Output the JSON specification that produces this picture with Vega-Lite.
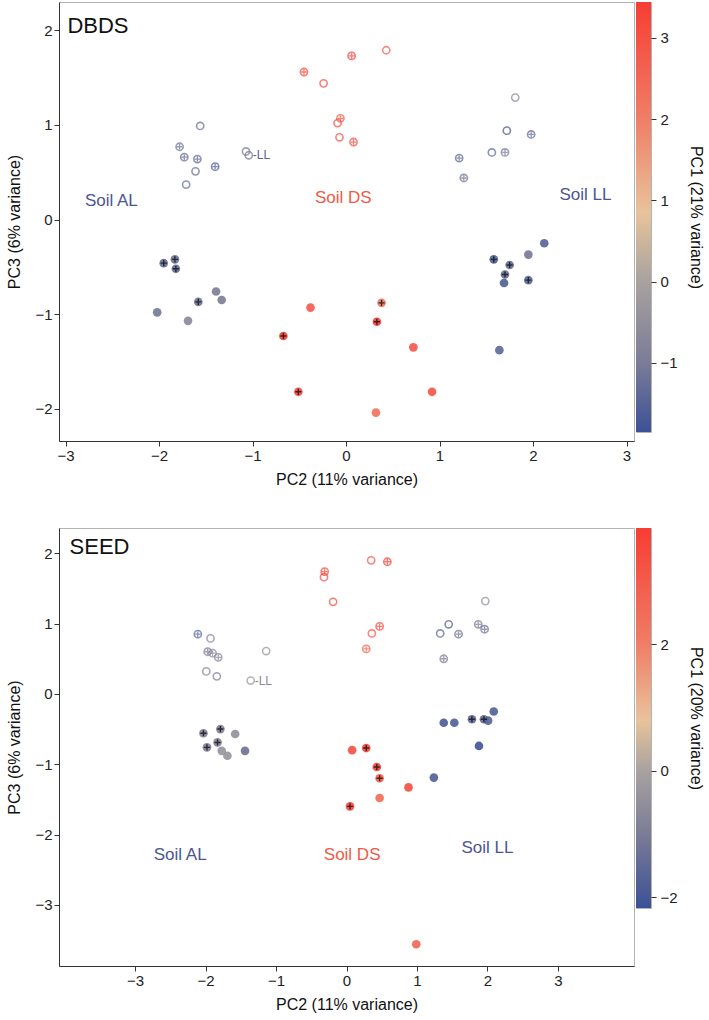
{
  "$schema": "https://vega.github.io/schema/vega-lite/v6.json",
  "padding": {"top": 1, "left": 6, "right": 0, "bottom": 0},
  "spacing": 39,
  "config": {
    "font": "Liberation Sans",
    "view": {"stroke": "#b3b3b3", "strokeWidth": 1},
    "axis": {"grid": false, "domainColor": "#333", "tickColor": "#333", "labelColor": "#222", "titleColor": "#111", "labelFontSize": 15, "titleFontSize": 16, "titleFontWeight": "normal", "labelFont": "Liberation Sans", "titleFont": "Liberation Sans", "tickSize": 5},
    "axisX": {"titlePadding": 8}
  },
  "datasets": {
    "dbds": [
      {"pc2": -0.24, "pc3": 1.44, "pc1": 3.1, "kind": "open", "plus": false},
      {"pc2": -0.09, "pc3": 1.02, "pc1": 3.1, "kind": "open", "plus": false},
      {"pc2": -0.07, "pc3": 0.87, "pc1": 3.0, "kind": "open", "plus": false},
      {"pc2": 0.43, "pc3": 1.79, "pc1": 2.8, "kind": "open", "plus": false},
      {"pc2": -0.45, "pc3": 1.56, "pc1": 3.3, "kind": "open", "plus": true},
      {"pc2": 0.06, "pc3": 1.73, "pc1": 3.4, "kind": "open", "plus": true},
      {"pc2": -0.06, "pc3": 1.07, "pc1": 2.9, "kind": "open", "plus": true},
      {"pc2": 0.08, "pc3": 0.82, "pc1": 3.1, "kind": "open", "plus": true},
      {"pc2": -1.56, "pc3": 0.99, "pc1": -1.3, "kind": "open", "plus": false},
      {"pc2": -1.78, "pc3": 0.77, "pc1": -1.2, "kind": "open", "plus": true},
      {"pc2": -1.73, "pc3": 0.66, "pc1": -1.4, "kind": "open", "plus": true},
      {"pc2": -1.59, "pc3": 0.64, "pc1": -1.4, "kind": "open", "plus": true},
      {"pc2": -1.40, "pc3": 0.56, "pc1": -1.7, "kind": "open", "plus": true},
      {"pc2": -1.61, "pc3": 0.51, "pc1": -1.3, "kind": "open", "plus": false},
      {"pc2": -1.71, "pc3": 0.37, "pc1": -1.3, "kind": "open", "plus": false},
      {"pc2": -1.07, "pc3": 0.72, "pc1": -1.1, "kind": "open", "plus": false},
      {"pc2": -1.04, "pc3": 0.68, "pc1": -1.1, "kind": "open", "plus": false},
      {"pc2": 1.81, "pc3": 1.29, "pc1": -0.7, "kind": "open", "plus": false},
      {"pc2": 1.72, "pc3": 0.94, "pc1": -1.8, "kind": "open", "plus": false},
      {"pc2": 1.98, "pc3": 0.90, "pc1": -1.4, "kind": "open", "plus": true},
      {"pc2": 1.56, "pc3": 0.71, "pc1": -1.4, "kind": "open", "plus": false},
      {"pc2": 1.70, "pc3": 0.71, "pc1": -1.1, "kind": "open", "plus": true},
      {"pc2": 1.21, "pc3": 0.65, "pc1": -1.4, "kind": "open", "plus": true},
      {"pc2": 1.26, "pc3": 0.44, "pc1": -1.2, "kind": "open", "plus": true},
      {"pc2": -1.95, "pc3": -0.46, "pc1": -1.3, "kind": "filled", "plus": true},
      {"pc2": -1.83, "pc3": -0.42, "pc1": -1.2, "kind": "filled", "plus": true},
      {"pc2": -1.82, "pc3": -0.52, "pc1": -1.3, "kind": "filled", "plus": true},
      {"pc2": -1.39, "pc3": -0.76, "pc1": -1.0, "kind": "filled", "plus": false},
      {"pc2": -1.58, "pc3": -0.87, "pc1": -1.2, "kind": "filled", "plus": true},
      {"pc2": -1.33, "pc3": -0.85, "pc1": -1.0, "kind": "filled", "plus": false},
      {"pc2": -2.02, "pc3": -0.98, "pc1": -1.1, "kind": "filled", "plus": false},
      {"pc2": -1.69, "pc3": -1.07, "pc1": -0.7, "kind": "filled", "plus": false},
      {"pc2": -0.38, "pc3": -0.93, "pc1": 2.8, "kind": "filled", "plus": false},
      {"pc2": -0.67, "pc3": -1.23, "pc1": 3.4, "kind": "filled", "plus": true},
      {"pc2": -0.51, "pc3": -1.82, "pc1": 3.2, "kind": "filled", "plus": true},
      {"pc2": 0.38, "pc3": -0.88, "pc1": 2.1, "kind": "filled", "plus": true},
      {"pc2": 0.33, "pc3": -1.08, "pc1": 3.4, "kind": "filled", "plus": true},
      {"pc2": 0.72, "pc3": -1.35, "pc1": 2.9, "kind": "filled", "plus": false},
      {"pc2": 0.92, "pc3": -1.82, "pc1": 2.9, "kind": "filled", "plus": false},
      {"pc2": 0.32, "pc3": -2.04, "pc1": 2.3, "kind": "filled", "plus": false},
      {"pc2": 2.12, "pc3": -0.25, "pc1": -1.5, "kind": "filled", "plus": false},
      {"pc2": 1.95, "pc3": -0.37, "pc1": -1.1, "kind": "filled", "plus": false},
      {"pc2": 1.58, "pc3": -0.42, "pc1": -1.6, "kind": "filled", "plus": true},
      {"pc2": 1.75, "pc3": -0.48, "pc1": -1.3, "kind": "filled", "plus": true},
      {"pc2": 1.70, "pc3": -0.58, "pc1": -1.3, "kind": "filled", "plus": true},
      {"pc2": 1.69, "pc3": -0.67, "pc1": -1.6, "kind": "filled", "plus": false},
      {"pc2": 1.95, "pc3": -0.64, "pc1": -1.4, "kind": "filled", "plus": true},
      {"pc2": 1.64, "pc3": -1.38, "pc1": -1.4, "kind": "filled", "plus": false}
    ],
    "seed": [
      {"pc2": -0.31, "pc3": 1.74, "pc1": 3.5, "kind": "open", "plus": true},
      {"pc2": -0.32, "pc3": 1.66, "pc1": 3.4, "kind": "open", "plus": false},
      {"pc2": -0.19, "pc3": 1.31, "pc1": 3.5, "kind": "open", "plus": false},
      {"pc2": 0.35, "pc3": 1.90, "pc1": 3.2, "kind": "open", "plus": false},
      {"pc2": 0.58, "pc3": 1.88, "pc1": 3.8, "kind": "open", "plus": true},
      {"pc2": 0.47, "pc3": 0.96, "pc1": 3.6, "kind": "open", "plus": true},
      {"pc2": 0.36, "pc3": 0.86, "pc1": 3.2, "kind": "open", "plus": false},
      {"pc2": 0.28, "pc3": 0.64, "pc1": 2.8, "kind": "open", "plus": true},
      {"pc2": -2.11, "pc3": 0.85, "pc1": -1.6, "kind": "open", "plus": true},
      {"pc2": -1.93, "pc3": 0.79, "pc1": -0.9, "kind": "open", "plus": false},
      {"pc2": -1.97, "pc3": 0.60, "pc1": -1.0, "kind": "open", "plus": true},
      {"pc2": -1.90, "pc3": 0.58, "pc1": -0.7, "kind": "open", "plus": true},
      {"pc2": -1.82, "pc3": 0.52, "pc1": -0.8, "kind": "open", "plus": true},
      {"pc2": -1.14, "pc3": 0.61, "pc1": -0.4, "kind": "open", "plus": false},
      {"pc2": -1.99, "pc3": 0.32, "pc1": -0.8, "kind": "open", "plus": false},
      {"pc2": -1.84, "pc3": 0.25, "pc1": -1.0, "kind": "open", "plus": false},
      {"pc2": -1.36, "pc3": 0.19, "pc1": -0.3, "kind": "open", "plus": false},
      {"pc2": 1.97, "pc3": 1.32, "pc1": -0.5, "kind": "open", "plus": false},
      {"pc2": 1.45, "pc3": 0.99, "pc1": -1.8, "kind": "open", "plus": false},
      {"pc2": 1.33, "pc3": 0.86, "pc1": -1.6, "kind": "open", "plus": false},
      {"pc2": 1.59, "pc3": 0.85, "pc1": -1.3, "kind": "open", "plus": true},
      {"pc2": 1.87, "pc3": 0.99, "pc1": -1.1, "kind": "open", "plus": true},
      {"pc2": 1.96, "pc3": 0.92, "pc1": -1.3, "kind": "open", "plus": true},
      {"pc2": 1.38, "pc3": 0.50, "pc1": -1.0, "kind": "open", "plus": true},
      {"pc2": -2.03, "pc3": -0.56, "pc1": -0.9, "kind": "filled", "plus": true},
      {"pc2": -1.79, "pc3": -0.50, "pc1": -0.9, "kind": "filled", "plus": true},
      {"pc2": -1.58, "pc3": -0.57, "pc1": -0.5, "kind": "filled", "plus": false},
      {"pc2": -1.98, "pc3": -0.76, "pc1": -0.9, "kind": "filled", "plus": true},
      {"pc2": -1.83, "pc3": -0.69, "pc1": -0.8, "kind": "filled", "plus": true},
      {"pc2": -1.77, "pc3": -0.81, "pc1": -0.4, "kind": "filled", "plus": false},
      {"pc2": -1.69, "pc3": -0.88, "pc1": -0.4, "kind": "filled", "plus": false},
      {"pc2": -1.44, "pc3": -0.81, "pc1": -1.3, "kind": "filled", "plus": false},
      {"pc2": 0.08, "pc3": -0.80, "pc1": 3.3, "kind": "filled", "plus": false},
      {"pc2": 0.28, "pc3": -0.77, "pc1": 3.6, "kind": "filled", "plus": true},
      {"pc2": 0.43, "pc3": -1.04, "pc1": 3.8, "kind": "filled", "plus": true},
      {"pc2": 0.47, "pc3": -1.20, "pc1": 3.0, "kind": "filled", "plus": true},
      {"pc2": 0.88, "pc3": -1.33, "pc1": 3.4, "kind": "filled", "plus": false},
      {"pc2": 0.47, "pc3": -1.48, "pc1": 2.6, "kind": "filled", "plus": false},
      {"pc2": 0.05, "pc3": -1.60, "pc1": 3.6, "kind": "filled", "plus": true},
      {"pc2": 0.99, "pc3": -3.56, "pc1": 2.7, "kind": "filled", "plus": false},
      {"pc2": 1.38, "pc3": -0.41, "pc1": -1.9, "kind": "filled", "plus": false},
      {"pc2": 1.53, "pc3": -0.41, "pc1": -1.8, "kind": "filled", "plus": false},
      {"pc2": 1.78, "pc3": -0.36, "pc1": -1.6, "kind": "filled", "plus": true},
      {"pc2": 1.95, "pc3": -0.36, "pc1": -1.5, "kind": "filled", "plus": true},
      {"pc2": 2.01, "pc3": -0.38, "pc1": -1.7, "kind": "filled", "plus": false},
      {"pc2": 2.09, "pc3": -0.25, "pc1": -1.8, "kind": "filled", "plus": false},
      {"pc2": 1.88, "pc3": -0.74, "pc1": -2.1, "kind": "filled", "plus": false},
      {"pc2": 1.24, "pc3": -1.19, "pc1": -1.8, "kind": "filled", "plus": false}
    ],
    "dbdsText": [
      {"pc2": -2.51, "pc3": 0.20, "label": "Soil AL", "grp": "AL"},
      {"pc2": -0.03, "pc3": 0.23, "label": "Soil DS", "grp": "DS"},
      {"pc2": 2.56, "pc3": 0.26, "label": "Soil LL", "grp": "LL"}
    ],
    "seedText": [
      {"pc2": -2.36, "pc3": -2.29, "label": "Soil AL", "grp": "AL"},
      {"pc2": 0.08, "pc3": -2.29, "label": "Soil DS", "grp": "DS"},
      {"pc2": 2.0, "pc3": -2.19, "label": "Soil LL", "grp": "LL"}
    ]
  },
  "vconcat": [
    {
      "spacing": 0,
      "hconcat": [
        {
          "width": 575,
          "height": 439,
          "encoding": {
            "x": {"field": "pc2", "type": "quantitative", "title": "PC2 (11% variance)", "scale": {"domain": [-3.07, 3.08], "nice": false, "zero": false}, "axis": {"values": [-3, -2, -1, 0, 1, 2, 3]}},
            "y": {"field": "pc3", "type": "quantitative", "title": "PC3 (6% variance)", "scale": {"domain": [-2.34, 2.3], "nice": false, "zero": false}, "axis": {"values": [-2, -1, 0, 1, 2], "titlePadding": 12}},
            "color": {"field": "pc1", "type": "quantitative", "scale": {"domain": [-1.85, -1, 0, 0.85, 2, 3.44], "range": ["#3c5196", "#7b7c96", "#a8a2a0", "#e8c39b", "#ef7e66", "#f73d33"], "interpolate": "rgb"}, "legend": null}
          },
          "layer": [
            {
              "data": {"name": "dbds"},
              "transform": [{"filter": "datum.kind == 'filled'"}],
              "mark": {"type": "circle", "size": 75, "opacity": 0.9}
            },
            {
              "data": {"name": "dbds"},
              "transform": [{"filter": "datum.kind == 'open'"}],
              "mark": {"type": "point", "shape": "circle", "size": 52, "filled": false, "strokeWidth": 1.6}
            },
            {
              "data": {"name": "dbds"},
              "transform": [{"filter": "datum.kind == 'open' && datum.plus"}],
              "mark": {"type": "point", "shape": "M-1,0L1,0M0,-1L0,1", "size": 30, "filled": false, "strokeWidth": 1.3}
            },
            {
              "data": {"name": "dbds"},
              "transform": [{"filter": "datum.kind == 'filled' && datum.plus"}],
              "mark": {"type": "point", "shape": "M-1,0L1,0M0,-1L0,1", "size": 38, "filled": false, "strokeWidth": 1.4, "opacity": 0.85},
              "encoding": {"color": {"value": "#1a1a1a"}}
            },
            {
              "data": {"name": "dbdsText"},
              "mark": {"type": "text", "fontSize": 17, "baseline": "middle", "align": "center"},
              "encoding": {"text": {"field": "label"}, "color": {"condition": {"test": "datum.grp == 'DS'", "value": "#ef5a45"}, "value": "#4b5593"}}
            },
            {
              "data": {"values": [{"pc2": -2.98, "pc3": 1.97, "label": "DBDS"}]},
              "mark": {"type": "text", "fontSize": 22, "baseline": "alphabetic", "align": "left"},
              "encoding": {"text": {"field": "label"}, "color": {"value": "#111"}}
            },
            {
              "data": {"values": [{"pc2": -1.04, "pc3": 0.68, "label": "-LL"}]},
              "mark": {"type": "text", "fontSize": 12, "baseline": "middle", "align": "left", "dx": 4},
              "encoding": {"text": {"field": "label"}, "color": {"value": "#5a6290"}}
            }
          ]
        },
        {
          "width": 15,
          "height": 430,
          "data": {"values": [{"lo": -1.85, "hi": 3.44}]},
          "mark": {"type": "rect", "color": {"gradient": "linear", "x1": 0, "y1": 1, "x2": 0, "y2": 0, "stops": [
            {"offset": 0, "color": "#3c5196"},
            {"offset": 0.161, "color": "#7b7c96"},
            {"offset": 0.350, "color": "#a8a2a0"},
            {"offset": 0.510, "color": "#e8c39b"},
            {"offset": 0.728, "color": "#ef7e66"},
            {"offset": 1, "color": "#f73d33"}
          ]}},
          "encoding": {
            "y": {"field": "lo", "type": "quantitative", "scale": {"domain": [-1.85, 3.44], "nice": false, "zero": false}, "axis": {"orient": "right", "values": [-1, 0, 1, 2, 3], "title": "PC1 (21% variance)", "domain": false, "titlePadding": 10, "labelPadding": 4}},
            "y2": {"field": "hi"}
          }
        }
      ]
    },
    {
      "spacing": 0,
      "hconcat": [
        {
          "width": 575,
          "height": 438,
          "encoding": {
            "x": {"field": "pc2", "type": "quantitative", "title": "PC2 (11% variance)", "scale": {"domain": [-4.08, 4.08], "nice": false, "zero": false}, "axis": {"values": [-3, -2, -1, 0, 1, 2, 3]}},
            "y": {"field": "pc3", "type": "quantitative", "title": "PC3 (6% variance)", "scale": {"domain": [-3.87, 2.36], "nice": false, "zero": false}, "axis": {"values": [-3, -2, -1, 0, 1, 2], "titlePadding": 12}},
            "color": {"field": "pc1", "type": "quantitative", "scale": {"domain": [-2.17, -1, 0, 0.8, 2, 3.84], "range": ["#3c5196", "#7b7c96", "#a8a2a0", "#e8c39b", "#ef7e66", "#f73d33"], "interpolate": "rgb"}, "legend": null}
          },
          "layer": [
            {
              "data": {"name": "seed"},
              "transform": [{"filter": "datum.kind == 'filled'"}],
              "mark": {"type": "circle", "size": 75, "opacity": 0.9}
            },
            {
              "data": {"name": "seed"},
              "transform": [{"filter": "datum.kind == 'open'"}],
              "mark": {"type": "point", "shape": "circle", "size": 52, "filled": false, "strokeWidth": 1.6}
            },
            {
              "data": {"name": "seed"},
              "transform": [{"filter": "datum.kind == 'open' && datum.plus"}],
              "mark": {"type": "point", "shape": "M-1,0L1,0M0,-1L0,1", "size": 30, "filled": false, "strokeWidth": 1.3}
            },
            {
              "data": {"name": "seed"},
              "transform": [{"filter": "datum.kind == 'filled' && datum.plus"}],
              "mark": {"type": "point", "shape": "M-1,0L1,0M0,-1L0,1", "size": 38, "filled": false, "strokeWidth": 1.4, "opacity": 0.85},
              "encoding": {"color": {"value": "#1a1a1a"}}
            },
            {
              "data": {"name": "seedText"},
              "mark": {"type": "text", "fontSize": 17, "baseline": "middle", "align": "center"},
              "encoding": {"text": {"field": "label"}, "color": {"condition": {"test": "datum.grp == 'DS'", "value": "#ef5a45"}, "value": "#4b5593"}}
            },
            {
              "data": {"values": [{"pc2": -3.93, "pc3": 1.99, "label": "SEED"}]},
              "mark": {"type": "text", "fontSize": 22, "baseline": "alphabetic", "align": "left"},
              "encoding": {"text": {"field": "label"}, "color": {"value": "#111"}}
            },
            {
              "data": {"values": [{"pc2": -1.36, "pc3": 0.19, "label": "-LL"}]},
              "mark": {"type": "text", "fontSize": 12, "baseline": "middle", "align": "left", "dx": 4},
              "encoding": {"text": {"field": "label"}, "color": {"value": "#8a8a93"}}
            }
          ]
        },
        {
          "width": 15,
          "height": 380,
          "data": {"values": [{"lo": -2.17, "hi": 3.84}]},
          "mark": {"type": "rect", "color": {"gradient": "linear", "x1": 0, "y1": 1, "x2": 0, "y2": 0, "stops": [
            {"offset": 0, "color": "#3c5196"},
            {"offset": 0.195, "color": "#7b7c96"},
            {"offset": 0.361, "color": "#a8a2a0"},
            {"offset": 0.494, "color": "#e8c39b"},
            {"offset": 0.694, "color": "#ef7e66"},
            {"offset": 1, "color": "#f73d33"}
          ]}},
          "encoding": {
            "y": {"field": "lo", "type": "quantitative", "scale": {"domain": [-2.17, 3.84], "nice": false, "zero": false}, "axis": {"orient": "right", "values": [-2, 0, 2], "title": "PC1 (20% variance)", "domain": false, "titlePadding": 10, "labelPadding": 4}},
            "y2": {"field": "hi"}
          }
        }
      ]
    }
  ],
  "resolve": {"scale": {"color": "independent"}}
}
